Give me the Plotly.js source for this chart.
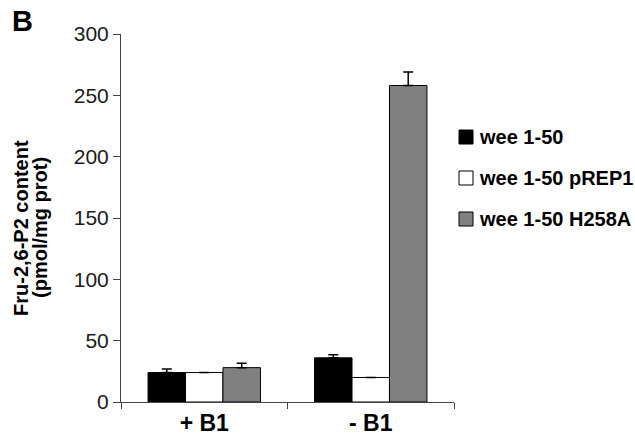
<!DOCTYPE html>
<html>
<head>
<meta charset="utf-8">
<script src="https://cdn.plot.ly/plotly-3.0.1.min.js"></script>
<style>html,body{margin:0;padding:0;background:#fff;}#chart{width:635px;height:441px;}</style>
</head>
<body>
<div id="chart"></div>
<script>
var categories = ['+ B1', '- B1'];
var seriesNames = ['wee 1-50', 'wee 1-50 pREP1', 'wee 1-50 H258A'];
var valuesWee = [24, 36];
var valuesPREP1 = [24, 20];
var valuesH258A = [28, 258];
var errWee = [3, 2.5];
var errPREP1 = [NaN, NaN];
var errH258A = [3.5, 11];
var yTicks = [0, 50, 100, 150, 200, 250, 300];
var yTitleLines = ['Fru-2,6-P2 content', '(pmol/mg prot)'];
var panelLabel = 'B';

var colors = ['#000000', '#ffffff', '#808080'];
var vals = [valuesWee, valuesPREP1, valuesH258A];
var errs = [errWee, errPREP1, errH258A];

var FONT = 'Liberation Sans, Arial, Helvetica, sans-serif';
var W = 635, H = 441;
var M = {l: 121, r: 181, t: 34, b: 39};
var PW = W - M.l - M.r, PH = H - M.t - M.b;
function px(x) { return (x - M.l) / PW; }
function py(y) { return 1 - (y - M.t) / PH; }

var traces = seriesNames.map(function (name, i) {
  return {
    type: 'bar',
    name: name,
    x: categories,
    y: vals[i],
    showlegend: false,
    marker: {color: colors[i], line: {color: '#000', width: 1}},
    error_y: {
      type: 'data', symmetric: false, array: errs[i],
      arrayminus: errs[i].map(function () { return 0; }),
      color: '#000', thickness: 1.5, width: 5, visible: true
    }
  };
});

// legend (drawn as key squares + text labels)
var legendRowY = [137, 178, 219];
var shapes = [], annotations = [];
seriesNames.forEach(function (name, i) {
  var cy = legendRowY[i];
  shapes.push({type: 'rect', xref: 'paper', yref: 'paper',
    x0: px(459), x1: px(473), y0: py(cy + 7), y1: py(cy - 7),
    fillcolor: colors[i], line: {color: '#000', width: 1}});
  annotations.push({text: name, xref: 'paper', yref: 'paper',
    x: px(477), y: py(cy), xanchor: 'left', yanchor: 'middle', showarrow: false,
    font: {family: FONT, size: 20, color: '#000', weight: 'bold'}});
});

annotations.push(
  {text: panelLabel, xref: 'paper', yref: 'paper', x: px(10), y: py(3),
   xanchor: 'left', yanchor: 'top', showarrow: false,
   font: {family: FONT, size: 29, color: '#000', weight: 'bold'}},
  {text: yTitleLines[0], xref: 'paper', yref: 'paper', x: px(21), y: py(228),
   xanchor: 'center', yanchor: 'middle', textangle: -90, showarrow: false,
   font: {family: FONT, size: 20, color: '#000', weight: 'bold'}},
  {text: yTitleLines[1], xref: 'paper', yref: 'paper', x: px(40), y: py(228),
   xanchor: 'center', yanchor: 'middle', textangle: -90, showarrow: false,
   font: {family: FONT, size: 20, color: '#000', weight: 'bold'}}
);

var layout = {
  width: W, height: H,
  margin: M,
  paper_bgcolor: '#fff', plot_bgcolor: '#fff',
  barmode: 'group', bargap: 0.325, bargroupgap: 0,
  showlegend: false,
  xaxis: {
    type: 'category', showline: true, linecolor: '#444', linewidth: 1,
    ticks: 'outside', tickson: 'boundaries', ticklen: 6, tickcolor: '#444',
    showgrid: false, zeroline: false,
    tickfont: {family: FONT, size: 23, color: '#000', weight: 'bold'}
  },
  yaxis: {
    range: [0, 300], tickvals: yTicks, ticktext: yTicks.map(String),
    showline: true, linecolor: '#444', linewidth: 1,
    ticks: 'outside', ticklen: 7, tickcolor: '#444',
    showgrid: false, zeroline: false,
    tickfont: {family: FONT, size: 21, color: '#1a1a1a'}
  },
  shapes: shapes,
  annotations: annotations
};

Plotly.newPlot('chart', traces, layout, {displayModeBar: false, staticPlot: true});
</script>
</body>
</html>
